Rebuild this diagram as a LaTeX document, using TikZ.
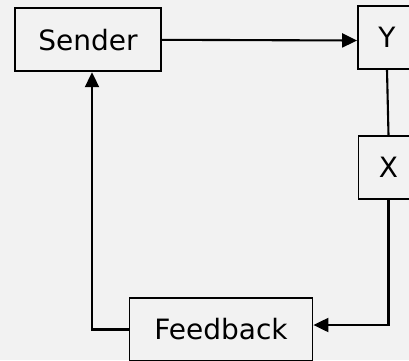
\documentclass[tikz,border=0pt]{standalone}
\usepackage{fontspec}
\setmainfont{DejaVu Sans}
\usetikzlibrary{arrows.meta}
\definecolor{bg}{HTML}{F2F2F2}
\begin{document}
\begin{tikzpicture}[x=1pt,y=-1pt,
  box/.style={draw=black,line width=1.8pt,fill=bg,inner sep=0pt,minimum height=63pt,
    font=\fontsize{28}{34}\selectfont},
  arr/.style={line width=2.1pt,-{Triangle[length=15pt,width=14pt]}},
  ln/.style={line width=2.1pt}]
\clip (0,0) rectangle (409,360);
\fill[bg] (0,0) rectangle (409,360);
\node[box,minimum width=146pt] (sender) at (88,39.8) {Sender};
\node[box,minimum width=58pt] (y) at (387,37.5) {Y};
\node[box,minimum width=60pt] (x) at (388.5,167.5) {X};
\node[box,minimum width=183pt] (fb) at (221,329.5) {Feedback};
\draw[arr] (sender.east) -- ([yshift=-3pt]y.west);
\draw[ln] (y.south) -- (x.north);
\draw[arr] (x.south) |- ([yshift=4.5pt]fb.east);
\draw[arr] (fb.west) -| ([xshift=4pt]sender.south);
\end{tikzpicture}
\end{document}
